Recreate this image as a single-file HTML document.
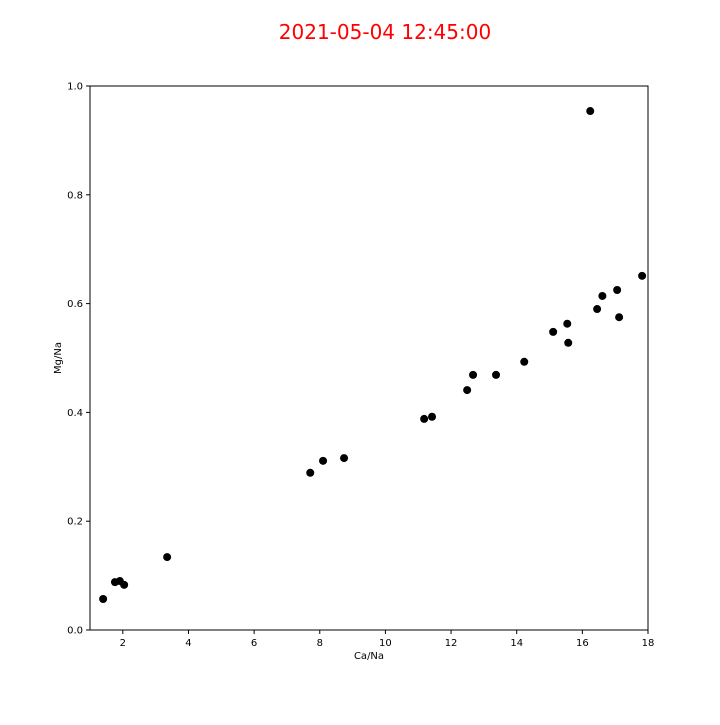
<!DOCTYPE html>
<html><head><meta charset="utf-8"><style>
body{margin:0;background:#fff;}
svg text{font-family:"DejaVu Sans","Liberation Sans",sans-serif;}
</style></head><body>
<svg id="chart" width="720" height="720" xmlns="http://www.w3.org/2000/svg">
<rect width="720" height="720" fill="#fff"/>
<text x="385" y="39" text-anchor="middle" font-size="20" fill="#ff0000">2021-05-04 12:45:00</text>
<g id="axes"></g>
<g id="points"></g>
<rect x="90" y="86" width="558" height="544" fill="none" stroke="#000" stroke-width="1"/>
<text x="369" y="659" text-anchor="middle" font-size="10">Ca/Na</text>
<text transform="translate(61,358) rotate(-90)" text-anchor="middle" font-size="10">Mg/Na</text>
</svg>
<script>
const caNa=[1.40,1.76,1.91,2.04,3.35,7.71,8.10,8.74,11.18,11.42,12.49,12.67,13.37,14.23,15.11,15.54,15.57,16.24,16.45,16.61,17.06,17.12,17.82];
const mgNa=[0.057,0.088,0.090,0.083,0.134,0.289,0.311,0.316,0.388,0.392,0.441,0.469,0.469,0.493,0.548,0.563,0.528,0.954,0.590,0.614,0.625,0.575,0.651];
const xTicks=[2,4,6,8,10,12,14,16,18];
const yTicks=[0.0,0.2,0.4,0.6,0.8,1.0];
const X0=90,X1=648,Y0=630,Y1=86,xmin=1,xmax=18,ymin=0,ymax=1;
function sx(v){return X0+(v-xmin)/(xmax-xmin)*(X1-X0);}
function sy(v){return Y0-(v-ymin)/(ymax-ymin)*(Y0-Y1);}
const NS="http://www.w3.org/2000/svg";
const axes=document.getElementById('axes'),pts=document.getElementById('points');
xTicks.forEach(t=>{
 const l=document.createElementNS(NS,'line');
 l.setAttribute('x1',sx(t));l.setAttribute('x2',sx(t));l.setAttribute('y1',Y0);l.setAttribute('y2',Y0+4);l.setAttribute('stroke','#000');
 
 
 axes.appendChild(l);
 const tx=document.createElementNS(NS,'text');
 tx.setAttribute('x',sx(t));tx.setAttribute('y',Y0+16);tx.setAttribute('text-anchor','middle');tx.setAttribute('font-size','10');
 tx.textContent=t;
 
 
 axes.appendChild(tx);
});
yTicks.forEach(t=>{
 const l=document.createElementNS(NS,'line');
 l.setAttribute('x1',X0-4);l.setAttribute('x2',X0);l.setAttribute('y1',sy(t));l.setAttribute('y2',sy(t));l.setAttribute('stroke','#000');
 
 
 axes.appendChild(l);
 const tx=document.createElementNS(NS,'text');
 tx.setAttribute('x',X0-7);tx.setAttribute('y',sy(t)+3.5);tx.setAttribute('text-anchor','end');tx.setAttribute('font-size','10');
 tx.textContent=t.toFixed(1);
 
 
 axes.appendChild(tx);
});
caNa.forEach((v,i)=>{
 const c=document.createElementNS(NS,'circle');
 c.setAttribute('cx',sx(v));c.setAttribute('cy',sy(mgNa[i]));c.setAttribute('r','4');c.setAttribute('fill','#000');
 
 
 pts.appendChild(c);
});
</script>
</body></html>
